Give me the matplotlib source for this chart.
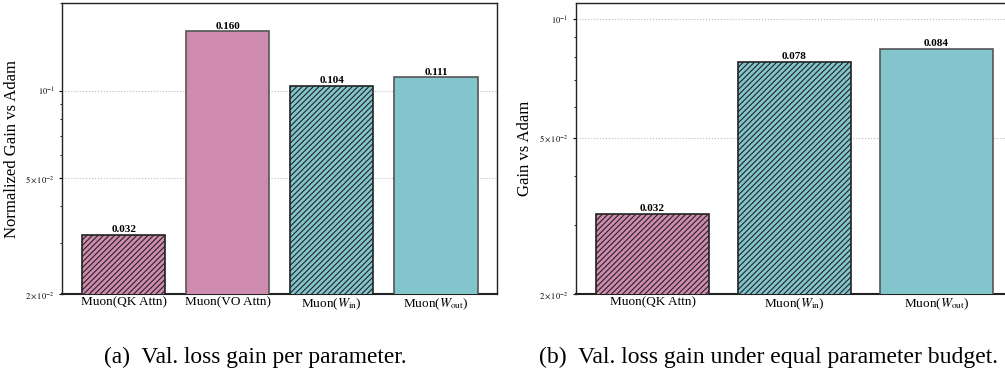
import matplotlib
matplotlib.use('Agg')
import matplotlib.pyplot as plt
import numpy as np

# per-parameter gain (left panel)
labels_a = ['Muon(QK Attn)', 'Muon(VO Attn)', r'Muon($W_{\rm in}$)', r'Muon($W_{\rm out}$)']
gain_a = [0.032, 0.160, 0.104, 0.111]
colors_a = ['#cf8baf', '#cf8baf', '#82c5cc', '#82c5cc']
hatch_a = [True, False, True, False]

# equal-budget gain (right panel)
labels_b = ['Muon(QK Attn)', r'Muon($W_{\rm in}$)', r'Muon($W_{\rm out}$)']
gain_b = [0.032, 0.078, 0.084]
colors_b = ['#cf8baf', '#82c5cc', '#82c5cc']
hatch_b = [True, True, False]

ytick_vals = [0.02, 0.05, 0.1]
ytick_text = [r'$2\times10^{-2}$', r'$5\times10^{-2}$', r'$10^{-1}$']

plt.rcParams['font.family'] = ['Liberation Serif', 'DejaVu Serif']
plt.rcParams['mathtext.fontset'] = 'stix'
plt.rcParams['hatch.linewidth'] = 0.8


def draw(ax, labels, vals, colors, hatches, ylabel, ylim):
    x = np.arange(len(vals))
    for i, v in enumerate(vals):
        if hatches[i]:
            ax.bar(x[i], v, width=0.8, color=colors[i], edgecolor='#222222',
                   hatch='//////', linewidth=1.2, zorder=3)
        else:
            ax.bar(x[i], v, width=0.8, color=colors[i], edgecolor='#555555',
                   linewidth=1.2, zorder=3)
        ax.text(x[i], v * 1.005, '%.3f' % v, ha='center', va='bottom',
                fontsize=8, fontweight='bold', zorder=4)
    ax.set_yscale('log')
    ax.set_ylim(*ylim)
    ax.set_yticks(ytick_vals)
    ax.set_yticklabels(ytick_text)
    ax.yaxis.set_minor_formatter(matplotlib.ticker.NullFormatter())
    ax.tick_params(axis='y', which='major', labelsize=6, length=2)
    ax.tick_params(axis='y', which='minor', length=1.5)
    ax.set_xticks(x)
    ax.set_xticklabels(labels, fontsize=9.5)
    ax.tick_params(axis='x', length=0, pad=2)
    ax.set_ylabel(ylabel, fontsize=12)
    ax.grid(axis='y', which='major', linestyle=':', color='#bbbbbb', linewidth=0.8, zorder=0)
    for s in ax.spines.values():
        s.set_color('#222222')
        s.set_linewidth(1.0)
    ax.spines['bottom'].set_linewidth(1.5)


fig = plt.figure(figsize=(10.05, 3.73), dpi=100)
ax1 = fig.add_axes([0.062, 0.2118, 0.4328, 0.780])
ax2 = fig.add_axes([0.5731, 0.2118, 0.4348, 0.780])

draw(ax1, labels_a, gain_a, colors_a, hatch_a, 'Normalized Gain vs Adam', (0.02, 0.2))
draw(ax2, labels_b, gain_b, colors_b, hatch_b, 'Gain vs Adam', (0.02, 0.11))

fig.text(0.254, 0.043, '(a)  Val. loss gain per parameter.', ha='center', va='center', fontsize=16.8)
fig.text(0.7647, 0.043, '(b)  Val. loss gain under equal parameter budget.', ha='center', va='center', fontsize=17)

fig.savefig('out.png', dpi=100)
